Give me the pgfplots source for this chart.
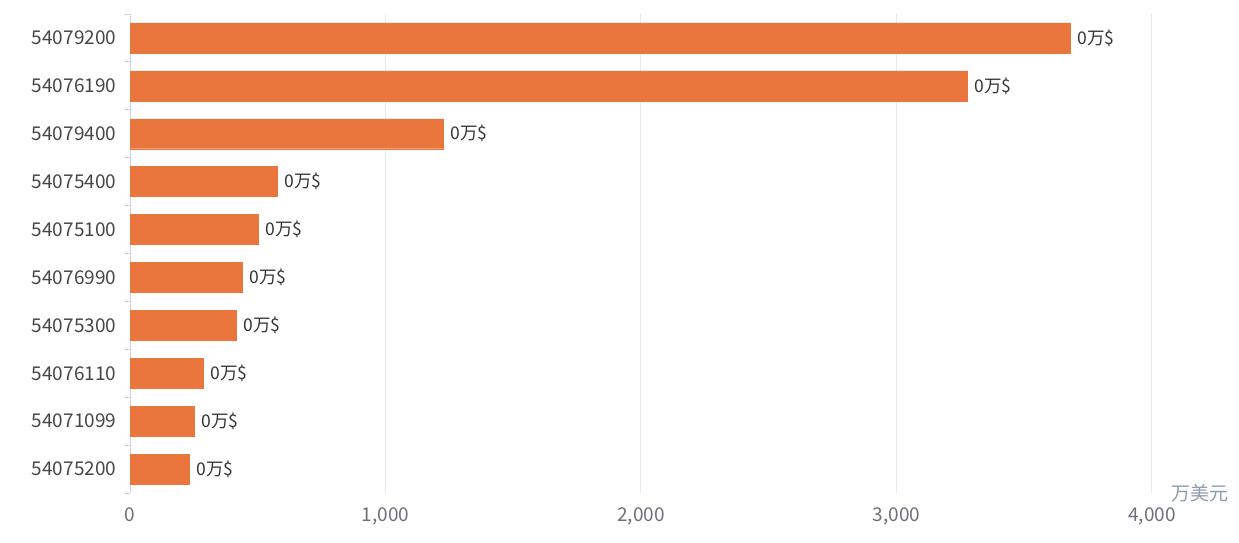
\documentclass[border=0pt]{standalone}
\usepackage{fontspec}
\setmainfont{Noto Sans CJK SC}
\usepackage{pgfplots}
\pgfplotsset{compat=1.18}
\definecolor{barc}{HTML}{EA763D}
\definecolor{axc}{HTML}{CCD6EB}
\definecolor{gridc}{HTML}{E6EAF0}
\definecolor{ytl}{HTML}{464646}
\definecolor{xtl}{HTML}{6E7079}
\definecolor{vlab}{HTML}{333333}
\definecolor{namec}{HTML}{8C9BAD}
\begin{document}
\begin{tikzpicture}
\useasboundingbox (0,0) rectangle (1239bp,543bp);
\begin{axis}[
  at={(130bp,50bp)}, anchor=south west,
  scale only axis, width=1022bp, height=479bp,
  xbar, bar width=0.625,
  xmin=0, xmax=4000,
  ymin=-0.5, ymax=9.5, y dir=reverse,
  axis lines*=left,
  x axis line style={draw=none},
  y axis line style={draw=axc, line width=1bp},
  xtick={0,1000,2000,3000,4000},
  scaled x ticks=false,
  xticklabel style={font=\fontsize{19bp}{22bp}\selectfont, text=xtl, yshift=-7bp},
  /pgf/number format/assume math mode=true,
  /pgf/number format/1000 sep={,},
  major x tick style={draw=none},
  xmajorgrids=true,
  grid style={draw=gridc, line width=1bp},
  ytick={0,...,9},
  yticklabels={54079200,54076190,54079400,54075400,54075100,54076990,54075300,54076110,54071099,54075200},
  yticklabel style={font=\fontsize{19bp}{22bp}\selectfont, text=ytl, xshift=-6bp},
  major y tick style={draw=none},
  minor ytick={-0.5,0.5,...,9.5},
  minor y tick style={draw=axc, line width=1bp},
  minor tick length=6bp,
  tick align=outside,
  nodes near coords={0万\$},
  every node near coord/.append style={anchor=west, font=\fontsize{17.5bp}{20bp}\selectfont, text=vlab, xshift=4bp},
  clip=false,
]
\addplot[draw=barc, fill=barc] coordinates {
 (3679,0) (3276,1) (1225,2) (575,3) (501,4) (438,5) (415,6) (286,7) (250,8) (231,9)
};
\end{axis}
\node[anchor=west, text=namec, font=\fontsize{19bp}{22bp}\selectfont] at (1168bp,50bp) {万美元};
\end{tikzpicture}
\end{document}
